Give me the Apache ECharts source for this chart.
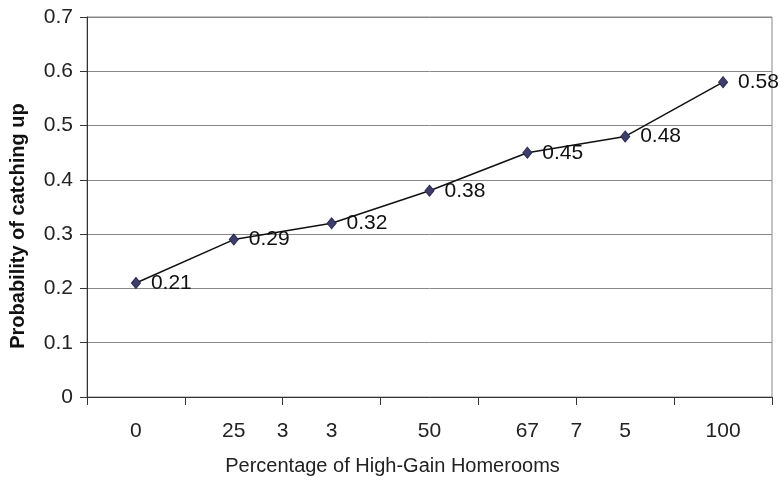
<!DOCTYPE html>
<html>
<head>
<meta charset="utf-8">
<script src="https://cdn.jsdelivr.net/npm/echarts@6/dist/echarts.min.js"></script>
<style>html,body{margin:0;padding:0;background:#fff}#c{width:784px;height:486px}</style>
</head>
<body>
<div id="c"></div>
<script>
// Category labels as they appear under each point
const categories = ["0", "25", "3", "50", "67", "5", "100"];
// Extra labels that appear at the tick boundaries
const tickLabels = ["", "", "3", "", "", "7", "", ""];
// Probability of catching up
const values = [0.21, 0.29, 0.32, 0.38, 0.45, 0.48, 0.58];
const yTicks = { min: 0, max: 0.7, interval: 0.1 };

const font = 'Liberation Sans, Arial, Helvetica, sans-serif';
const chart = echarts.init(document.getElementById('c'));
chart.setOption({
  animation: false,
  backgroundColor: '#fff',
  grid: { left: 87, right: 12, top: 17, bottom: 89, show: true, borderColor: '#888', borderWidth: 1 },
  xAxis: [{
    type: 'category',
    data: categories,
    boundaryGap: true,
    name: 'Percentage of High-Gain Homerooms',
    nameLocation: 'middle',
    nameGap: 59,
    nameTextStyle: { fontFamily: font, fontSize: 20, color: '#222', padding: [0, 74, 0, 0] },
    axisLine: { lineStyle: { color: '#333', width: 1 } },
    axisTick: { show: true, alignWithLabel: false, length: 8, inside: false, lineStyle: { color: '#333' } },
    axisLabel: { fontFamily: font, fontSize: 21, color: '#222', margin: 24, interval: 0 },
    splitLine: { show: false }
  }, {
    type: 'category',
    data: tickLabels,
    boundaryGap: false,
    position: 'bottom',
    axisLine: { show: false },
    axisTick: { show: false },
    axisLabel: { fontFamily: font, fontSize: 21, color: '#222', margin: 24, interval: 0 },
    splitLine: { show: false }
  }],
  yAxis: {
    type: 'value',
    min: yTicks.min, max: yTicks.max, interval: yTicks.interval,
    name: 'Probability of catching up',
    nameLocation: 'middle',
    nameGap: 59,
    nameTextStyle: { fontFamily: font, fontSize: 20, fontWeight: 'bold', color: '#111', padding: [0, 38, 0, 0] },
    axisLine: { show: true, lineStyle: { color: '#333', width: 1 } },
    axisTick: { show: true, length: 7, lineStyle: { color: '#333' } },
    axisLabel: { fontFamily: font, fontSize: 21, color: '#222', margin: 14, formatter: v => (v === 0 ? '0' : v.toFixed(1)) },
    splitLine: { show: true, lineStyle: { color: '#888', width: 1 } }
  },
  series: [{
    type: 'line',
    xAxisIndex: 0,
    data: values,
    symbol: 'diamond',
    symbolSize: [9, 11],
    itemStyle: { color: '#3e3e6c', borderColor: '#2a2a50', borderWidth: 1 },
    lineStyle: { color: '#111', width: 1.5 },
    label: { show: true, position: 'right', distance: 10, fontFamily: font, fontSize: 21, color: '#111', formatter: p => p.value.toFixed(2) }
  }]
});
</script>
</body>
</html>
